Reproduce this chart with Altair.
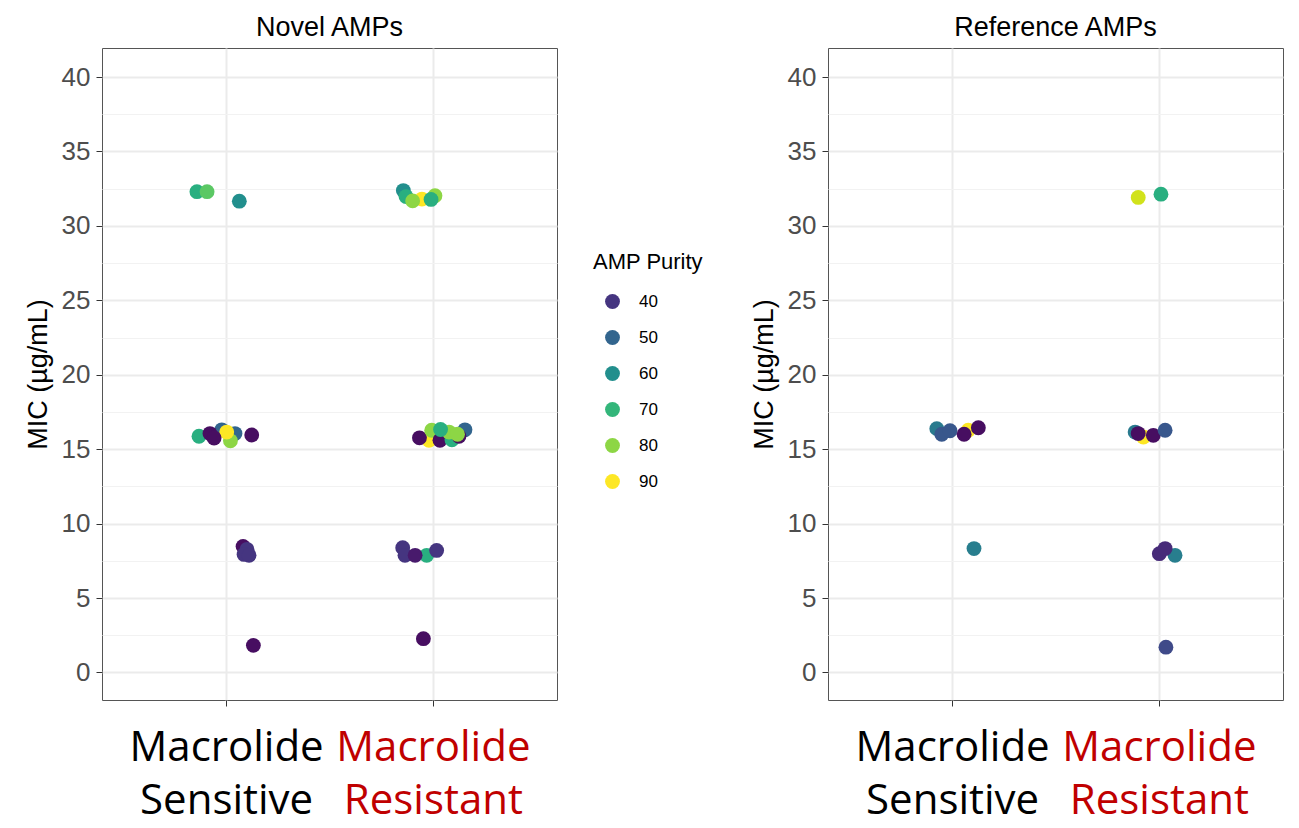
import altair as alt
import pandas as pd

# ---- data ----
panel = (["Novel AMPs"] * 38) + (["Reference AMPs"] * 18)

# x position: 1 = Macrolide Sensitive, 2 = Macrolide Resistant (with jitter)
x_pos = [
    # Novel - sensitive ~32
    0.859, 0.908, 1.064,
    # Novel - resistant ~32
    1.857, 1.870, 1.947, 1.902, 2.010, 1.991,
    # Novel - sensitive ~16
    0.869, 0.979, 1.043, 1.021, 1.003, 0.922, 0.942, 1.124,
    # Novel - resistant ~16
    1.981, 1.935, 1.994, 2.034, 2.092, 2.155, 2.126, 2.078, 2.119, 2.037,
    # Novel - sensitive ~8 and ~2
    1.082, 1.101, 1.087, 1.111, 1.132,
    # Novel - resistant ~8 and ~2
    1.854, 1.865, 1.970, 1.914, 2.018, 1.954,
    # Reference - sensitive ~16
    0.926, 0.950, 0.990, 1.078, 1.058, 1.127,
    # Reference - sensitive ~8
    1.106,
    # Reference - resistant ~32
    1.900, 2.010,
    # Reference - resistant ~16
    1.885, 1.925, 1.900, 1.973, 2.030,
    # Reference - resistant ~8 and ~2
    2.078, 2.002, 2.030, 2.034,
]

mic = [
    32.30, 32.30, 31.66,
    32.37, 31.97, 31.80, 31.68, 32.03, 31.78,
    15.87, 16.30, 16.05, 15.56, 16.15, 16.05, 15.75, 15.95,
    15.60, 15.76, 16.27, 15.60, 15.63, 16.30, 15.87, 16.15, 16.00, 16.32,
    8.47, 8.27, 7.93, 7.87, 1.82,
    8.38, 7.87, 7.87, 7.87, 8.20, 2.27,
    16.38, 16.00, 16.24, 16.27, 16.00, 16.44,
    8.32,
    31.91, 32.13,
    16.15, 15.82, 16.05, 15.93, 16.27,
    7.87, 7.98, 8.32, 1.70,
]

purity = [
    68, 75, 60,
    60, 68, 90, 80, 80, 68,
    68, 50, 50, 80, 90, 33, 33, 33,
    90, 33, 80, 33, 68, 50, 33, 80, 80, 68,
    33, 40, 40, 40, 33,
    40, 40, 68, 35, 40, 33,
    55, 47, 47, 90, 33, 33,
    56,
    86, 68,
    55, 90, 33, 33, 47,
    56, 38, 38, 44,
]

category_ticks = [1, 2]
legend_values = [40, 50, 60, 70, 80, 90]

df = pd.DataFrame({
    "panel": panel,
    "x": x_pos,
    "mic": mic,
    "purity": purity,
})
df["draw"] = range(len(df))

y_values = [i * 2.5 for i in range(17)]

label_font = "Liberation Sans"


def make_panel(name):
    sub = df[df["panel"] == name]
    return (
        alt.Chart(sub)
        .mark_circle(size=220, opacity=1)
        .encode(
            x=alt.X(
                "x:Q",
                scale=alt.Scale(domain=[0.4, 2.6], nice=False, zero=False),
                axis=alt.Axis(
                    title=None,
                    values=category_ticks,
                    labelExpr="datum.value == 1 ? ['Macrolide', 'Sensitive'] : ['Macrolide', 'Resistant']",
                    labelColor={
                        "condition": {"test": "datum.value == 2", "value": "#c00000"},
                        "value": "#000000",
                    },
                    labelFont="Open Sans",
                    labelFontSize=42,
                    labelLineHeight=53,
                    labelPadding=21,
                    labelAlign="center",
                    labelOverlap=False,
                    labelLimit=600,
                    grid=True,
                    gridColor="#ebebeb",
                    gridWidth=2,
                    domain=False,
                    tickColor="#333333",
                    tickSize=6,
                    tickWidth=1,
                ),
            ),
            y=alt.Y(
                "mic:Q",
                scale=alt.Scale(domain=[-1.85, 41.95], nice=False, zero=False),
                axis=alt.Axis(
                    title="MIC (µg/mL)",
                    titleFont=label_font,
                    titleFontSize=27,
                    titleFontWeight="normal",
                    titleColor="#000000",
                    titlePadding=9,
                    values=y_values,
                    labelExpr="datum.value % 5 == 0 ? datum.label : ''",
                    labelFont=label_font,
                    labelFontSize=26,
                    labelColor="#4d4d4d",
                    labelPadding=6,
                    labelOverlap=False,
                    labelFlush=False,
                    grid=True,
                    gridColor={
                        "condition": {"test": "datum.value % 5 == 0", "value": "#ebebeb"},
                        "value": "#f2f2f2",
                    },
                    gridWidth={
                        "condition": {"test": "datum.value % 5 == 0", "value": 2},
                        "value": 1,
                    },
                    tickOpacity={
                        "condition": {"test": "datum.value % 5 == 0", "value": 1},
                        "value": 0,
                    },
                    domain=False,
                    tickColor="#333333",
                    tickSize=6,
                    tickWidth=1,
                ),
            ),
            color=alt.Color(
                "purity:Q",
                scale=alt.Scale(scheme="viridis", domain=[31, 90]),
                legend=alt.Legend(
                    title="AMP Purity",
                    type="symbol",
                    values=legend_values,
                    orient="none",
                    legendX=491,
                    legendY=204,
                    titleFont=label_font,
                    titleFontSize=22,
                    titleFontWeight="normal",
                    titleColor="#000000",
                    titlePadding=19,
                    labelFont=label_font,
                    labelFontSize=17,
                    labelColor="#000000",
                    labelOffset=18,
                    symbolType="circle",
                    symbolSize=220,
                    symbolOpacity=1,
                    symbolStrokeWidth=0,
                    symbolOffset=11,
                    rowPadding=18,
                ),
            ),
            order=alt.Order("draw:Q"),
        )
        .properties(
            width=455,
            height=652,
            title=alt.TitleParams(
                name,
                font=label_font,
                fontSize=27,
                fontWeight="normal",
                color="#000000",
                anchor="middle",
                offset=6,
            ),
        )
    )


chart = (
    alt.hconcat(make_panel("Novel AMPs"), make_panel("Reference AMPs"), spacing=191)
    .configure_view(stroke="#555555", strokeWidth=1)
    .properties(padding={"left": 15, "top": 5, "right": 5, "bottom": 6})
)

chart.save("out.html", embed_options={"renderer": "svg", "actions": False})
